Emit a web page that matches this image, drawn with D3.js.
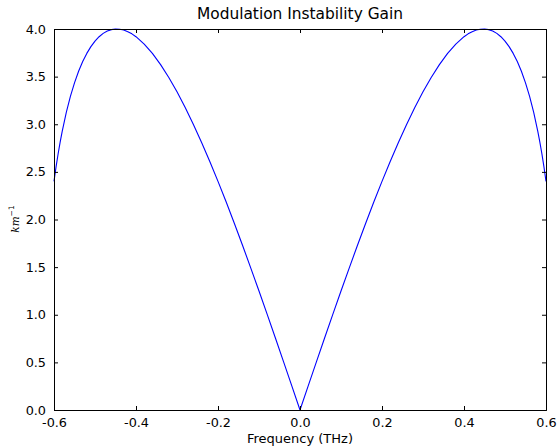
<!DOCTYPE html>
<html>
<head>
<meta charset="utf-8">
<script src="https://cdn.jsdelivr.net/npm/d3@7"></script>
<style>
  html, body { margin: 0; padding: 0; background: #fff; }
  svg { display: block; }
  text { font-family: "DejaVu Sans", sans-serif; fill: #000; }
</style>
</head>
<body>
<script>
// ---- data ----
const frequency = [
  -0.600, -0.595, -0.590, -0.585, -0.580, -0.570, -0.560, -0.550, -0.540, -0.530, -0.520, -0.510,
  -0.500, -0.490, -0.480, -0.470, -0.460, -0.450, -0.440, -0.430, -0.420, -0.410, -0.400,
  -0.380, -0.360, -0.340, -0.320, -0.300, -0.280, -0.260, -0.240, -0.220, -0.200,
  -0.180, -0.160, -0.140, -0.120, -0.100, -0.080, -0.060, -0.040, -0.020,
  0.000,
  0.020, 0.040, 0.060, 0.080, 0.100, 0.120, 0.140, 0.160, 0.180,
  0.200, 0.220, 0.240, 0.260, 0.280, 0.300, 0.320, 0.340, 0.360, 0.380,
  0.400, 0.410, 0.420, 0.430, 0.440, 0.450, 0.460, 0.470, 0.480, 0.490,
  0.500, 0.510, 0.520, 0.530, 0.540, 0.550, 0.560, 0.570, 0.580, 0.585, 0.590, 0.595, 0.600
];
const gain = [
  2.400, 2.552, 2.688, 2.812, 2.925, 3.124, 3.292, 3.435, 3.556, 3.658, 3.744, 3.815,
  3.873, 3.919, 3.954, 3.978, 3.993, 4.000, 3.998, 3.989, 3.972, 3.949, 3.919,
  3.842, 3.744, 3.626, 3.491, 3.341, 3.176, 2.998, 2.809, 2.609, 2.400,
  2.183, 1.958, 1.727, 1.490, 1.249, 1.004, 0.756, 0.505, 0.253,
  0.000,
  0.253, 0.505, 0.756, 1.004, 1.249, 1.490, 1.727, 1.958, 2.183,
  2.400, 2.609, 2.809, 2.998, 3.176, 3.341, 3.491, 3.626, 3.744, 3.842,
  3.919, 3.949, 3.972, 3.989, 3.998, 4.000, 3.993, 3.978, 3.954, 3.919,
  3.873, 3.815, 3.744, 3.658, 3.556, 3.435, 3.292, 3.124, 2.925, 2.812, 2.688, 2.552, 2.400
];
const xTicks = [-0.6, -0.4, -0.2, 0.0, 0.2, 0.4, 0.6];
const yTicks = [0.0, 0.5, 1.0, 1.5, 2.0, 2.5, 3.0, 3.5, 4.0];
const titleText = "Modulation Instability Gain";
const xLabelText = "Frequency (THz)";

// ---- layout ----
const W = 557, H = 447;
const plotL = 54, plotR = 546, plotT = 29, plotB = 410;

const svg = d3.select("body").append("svg").attr("width", W).attr("height", H);

const x = d3.scaleLinear().domain([-0.6, 0.6]).range([plotL, plotR]);
const y = d3.scaleLinear().domain([0, 4]).range([plotB, plotT]);

// curve
const pts = frequency.map((f, i) => [f, gain[i]]);
const line = d3.line().x(d => x(d[0])).y(d => y(d[1])).curve(d3.curveLinear);
svg.append("path")
  .datum(pts)
  .attr("d", line)
  .attr("fill", "none")
  .attr("stroke", "#0000ff")
  .attr("stroke-width", 1.1)
  .attr("stroke-linejoin", "round");

// axes (ticks inside, on all sides)
const fmt = d => d3.format(".1f")(d).replace("\u2212", "-");
const tl = 4;
const axB = svg.append("g").attr("transform", `translate(0,${plotB})`)
  .call(d3.axisBottom(x).tickValues(xTicks).tickSize(-tl).tickPadding(tl + 5).tickFormat(fmt));
const axT = svg.append("g").attr("transform", `translate(0,${plotT})`)
  .call(d3.axisTop(x).tickValues(xTicks).tickSize(-tl).tickFormat(""));
const axL = svg.append("g").attr("transform", `translate(${plotL},0)`)
  .call(d3.axisLeft(y).tickValues(yTicks).tickSize(-tl).tickPadding(tl + 4).tickFormat(fmt));
const axR = svg.append("g").attr("transform", `translate(${plotR},0)`)
  .call(d3.axisRight(y).tickValues(yTicks).tickSize(-tl).tickFormat(""));

[axB, axT, axL, axR].forEach(g => {
  g.select(".domain").attr("stroke", "#000").attr("stroke-width", 1);
  g.selectAll(".tick line").attr("stroke", "#000").attr("stroke-width", 1);
  g.selectAll(".tick text").attr("font-size", "12.8px").attr("font-family", "DejaVu Sans").attr("fill", "#000");
});
axB.selectAll(".tick text").attr("dy", "0.65em");

// title
svg.append("text")
  .attr("x", (plotL + plotR) / 2).attr("y", 19)
  .attr("text-anchor", "middle")
  .attr("font-size", "15.4px")
  .text(titleText);

// x label
svg.append("text")
  .attr("x", (plotL + plotR) / 2).attr("y", 443)
  .attr("text-anchor", "middle")
  .attr("font-size", "13px")
  .text(xLabelText);

// y label km^-1 (rotated)
const yl = svg.append("text")
  .attr("transform", `translate(19,219) rotate(-90)`)
  .attr("text-anchor", "middle")
  .attr("font-size", "10.5px");
yl.append("tspan").attr("font-style", "italic").attr("font-family", "DejaVu Serif").text("km");
yl.append("tspan").attr("font-size", "7.5px").attr("dy", "-5").attr("font-family", "DejaVu Sans").text("\u22121");
</script>
</body>
</html>
